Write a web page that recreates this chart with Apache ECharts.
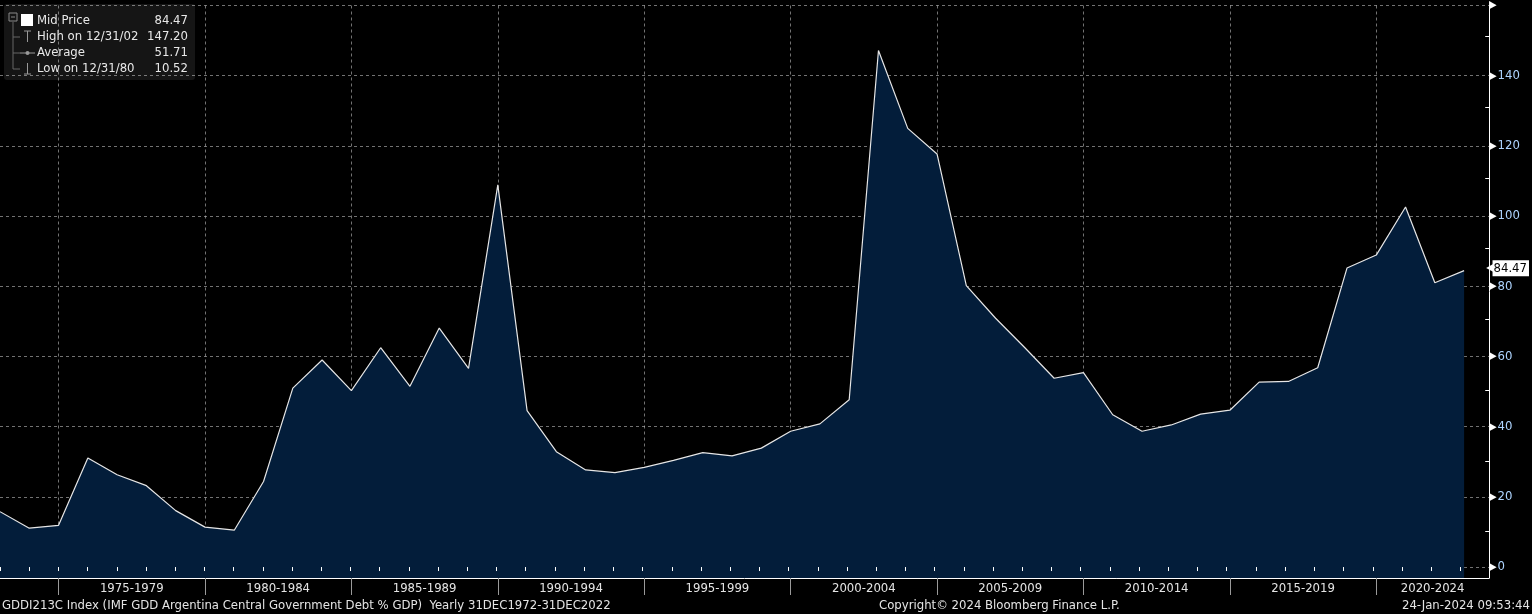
<!DOCTYPE html>
<html style="height: 100%">

<head>
    <meta charset="utf-8">
</head>

<body style="height: 100%;width: 100%;margin: 0;background: #000;">
    <div id="container" style="height: 614px;width: 1532px;"></div>
    <script type="text/javascript" src="https://cdn.jsdelivr.net/npm/echarts@6/dist/echarts.min.js"></script>
    <script type="text/javascript">
        var years = [1972, 1973, 1974, 1975, 1976, 1977, 1978, 1979, 1980, 1981,
            1982, 1983, 1984, 1985, 1986, 1987, 1988, 1989, 1990, 1991,
            1992, 1993, 1994, 1995, 1996, 1997, 1998, 1999, 2000, 2001,
            2002, 2003, 2004, 2005, 2006, 2007, 2008, 2009, 2010, 2011,
            2012, 2013, 2014, 2015, 2016, 2017, 2018, 2019, 2020, 2021, 2022];
        var debt = [15.8, 11.1, 11.9, 31.1, 26.3, 23.2, 16.1, 11.4, 10.52, 24.4,
            51.0, 59.0, 50.3, 62.5, 51.5, 68.1, 56.6, 108.9, 44.6, 32.9,
            27.7, 26.9, 28.4, 30.4, 32.6, 31.7, 33.9, 38.7, 40.8, 47.7,
            147.2, 125.0, 117.7, 80.2, 70.9, 62.5, 53.8, 55.4, 43.4, 38.7,
            40.5, 43.6, 44.7, 52.7, 52.9, 56.8, 85.2, 88.9, 102.6, 81.0, 84.47];
        var periods = ['1975-1979', '1980-1984', '1985-1989', '1990-1994', '1995-1999',
            '2000-2004', '2005-2009', '2010-2014', '2015-2019', '2020-2024'];
        var yTicks = [0, 20, 40, 60, 80, 100, 120, 140, 160];
        var yMinorTicks = [10, 30, 50, 70, 90, 110, 130, 150];
        var legendRows = [
            ['Mid Price', '84.47'],
            ['High on 12/31/02', '147.20'],
            ['Average', '51.71'],
            ['Low on 12/31/80', '10.52']
        ];
        var footerLeft = 'GDDI213C Index (IMF GDD Argentina Central Government Debt % GDP)  Yearly 31DEC1972-31DEC2022';
        var footerMid = 'Copyright\u00a9 2024 Bloomberg Finance L.P.';
        var footerRight = '24-Jan-2024 09:53:44';

        var font = '"DejaVu Sans Condensed", "Liberation Sans Narrow", "DejaVu Sans", sans-serif';
        var xMin = 1972, xMax = 2022.85, yMin = -3.1, yMax = 160;
        var gridLine = { color: 'rgba(190,190,190,0.6)', type: [3, 3], width: 1 };

        // period boundaries and label centres
        var bounds = periods.map(function (p) { return parseInt(p, 10) - 1; });
        var centers = periods.map(function (p) {
            var s = parseInt(p, 10);
            return (Math.max(s - 1, xMin) + Math.min(s + 4, xMax)) / 2;
        });
        var lastValue = debt[debt.length - 1];

        var dom = document.getElementById("container");
        var myChart = echarts.init(dom);
        var gridBox = { left: 0, right: 43, top: 1, bottom: 36 };

        var legendEls = [
            { type: 'rect', shape: { x: 0, y: 0, width: 191, height: 76, r: 3 }, style: { fill: '#151515' } },
            { type: 'rect', shape: { x: 5, y: 9, width: 8, height: 8 }, style: { fill: 'none', stroke: '#8a8a8a', lineWidth: 1 } },
            { type: 'line', shape: { x1: 7, y1: 13, x2: 11, y2: 13 }, style: { stroke: '#8a8a8a' } },
            { type: 'line', shape: { x1: 9, y1: 18, x2: 9, y2: 65 }, style: { stroke: '#666' } },
            { type: 'line', shape: { x1: 9, y1: 33, x2: 16, y2: 33 }, style: { stroke: '#666' } },
            { type: 'line', shape: { x1: 9, y1: 49, x2: 16, y2: 49 }, style: { stroke: '#666' } },
            { type: 'line', shape: { x1: 9, y1: 65, x2: 16, y2: 65 }, style: { stroke: '#666' } },
            { type: 'rect', shape: { x: 17, y: 10, width: 12, height: 12 }, style: { fill: '#fff' } },
            { type: 'line', shape: { x1: 20, y1: 27, x2: 27, y2: 27 }, style: { stroke: '#999' } },
            { type: 'line', shape: { x1: 23.5, y1: 27, x2: 23.5, y2: 38 }, style: { stroke: '#999' } },
            { type: 'line', shape: { x1: 16, y1: 49, x2: 31, y2: 49 }, style: { stroke: '#999' } },
            { type: 'circle', shape: { cx: 23.5, cy: 49, r: 2 }, style: { fill: '#999' } },
            { type: 'line', shape: { x1: 23.5, y1: 59, x2: 23.5, y2: 70 }, style: { stroke: '#999' } },
            { type: 'line', shape: { x1: 20, y1: 70, x2: 27, y2: 70 }, style: { stroke: '#999' } }
        ];
        legendRows.forEach(function (row, i) {
            legendEls.push({
                type: 'text', x: 33, y: 17 + i * 16,
                style: { text: row[0], fill: '#e8e8e8', font: '13px ' + font, textVerticalAlign: 'middle' }
            });
            legendEls.push({
                type: 'text', x: 184, y: 17 + i * 16,
                style: { text: row[1], fill: '#e8e8e8', font: '13px ' + font, textAlign: 'right', textVerticalAlign: 'middle' }
            });
        });

        option = {
            backgroundColor: '#000',
            animation: false,
            grid: [
                { left: gridBox.left, right: gridBox.right, top: gridBox.top, bottom: gridBox.bottom },
                { left: gridBox.left, right: gridBox.right, top: gridBox.top, bottom: gridBox.bottom }
            ],
            xAxis: [{
                type: 'value', gridIndex: 0, min: xMin, max: xMax, z: 3,
                axisLine: { show: true, onZero: false, lineStyle: { color: '#fff', width: 1 } },
                axisTick: { show: true, customValues: bounds, length: 17, lineStyle: { color: '#9a9a9a' } },
                axisLabel: {
                    customValues: centers, margin: 4, color: '#e4e4e4', fontSize: 13, fontFamily: font,
                    formatter: function (v) {
                        var best = 0;
                        for (var i = 1; i < centers.length; i++) {
                            if (Math.abs(centers[i] - v) < Math.abs(centers[best] - v)) best = i;
                        }
                        return periods[best];
                    }
                },
                splitLine: { show: true, lineStyle: gridLine }
            }, {
                type: 'value', gridIndex: 1, min: xMin, max: xMax, z: 3,
                axisLine: { show: false },
                axisTick: { show: true, customValues: years, length: 4, lineStyle: { color: '#fff' } },
                axisLabel: { show: false },
                splitLine: { show: false }
            }],
            yAxis: [{
                type: 'value', gridIndex: 0, position: 'right', min: yMin, max: yMax, z: 3,
                axisLine: { show: true, lineStyle: { color: '#fff', width: 1 } },
                axisTick: { show: true, customValues: yTicks, length: 4, lineStyle: { color: '#fff' } },
                axisLabel: {
                    customValues: yTicks, margin: 0, fontFamily: font,
                    formatter: function (v) {
                        return v === 160 ? '{t|\u25B6}' : '{t|\u25B6}{v|' + v + '}';
                    },
                    rich: {
                        t: { color: '#fff', fontSize: 11, padding: [0, 1, 0, 0], verticalAlign: 'middle' },
                        v: { color: '#aed4ff', fontSize: 13, fontFamily: font, verticalAlign: 'middle' }
                    }
                },
                splitLine: { show: true, lineStyle: gridLine }
            }, {
                type: 'value', gridIndex: 1, position: 'right', min: yMin, max: yMax, z: 4,
                axisLine: { show: false },
                axisTick: { show: true, customValues: yMinorTicks, length: 4, lineStyle: { color: '#fff' } },
                axisLabel: {
                    customValues: [lastValue], margin: 1, fontFamily: font,
                    formatter: function (v) {
                        return '{a|\u25C0}{b|' + Number(v).toFixed(2) + '}';
                    },
                    rich: {
                        a: { color: '#fff', fontSize: 12, verticalAlign: 'middle', padding: [0, -2, 0, 0] },
                        b: {
                            color: '#000', backgroundColor: '#fff', fontSize: 13, fontFamily: font,
                            padding: [2, 2, 1, 1], verticalAlign: 'middle'
                        }
                    }
                },
                splitLine: { show: false }
            }],
            series: [{
                name: 'Mid Price',
                type: 'line',
                xAxisIndex: 0,
                yAxisIndex: 0,
                silent: true,
                symbol: 'none',
                data: years.map(function (y, i) { return [y, debt[i]]; }),
                lineStyle: { color: '#e6e6e6', width: 1.2 },
                areaStyle: { color: '#031d3a', origin: 'start', opacity: 1 }
            }],
            graphic: [
                { type: 'group', left: 4, top: 4, z: 10, children: legendEls },
                {
                    type: 'text', left: 2, top: 599, z: 10,
                    style: { text: footerLeft, fill: '#e4e4e4', font: '13px ' + font }
                },
                {
                    type: 'text', left: 879, top: 599, z: 10,
                    style: { text: footerMid, fill: '#e4e4e4', font: '13px ' + font }
                },
                {
                    type: 'text', right: 2, top: 599, z: 10,
                    style: { text: footerRight, fill: '#e4e4e4', font: '13px ' + font }
                }
            ]
        };

        if (option && typeof option === "object") {
            myChart.setOption(option, true);
            window.onresize = myChart.resize;
        }
    </script>
</body>

</html>
